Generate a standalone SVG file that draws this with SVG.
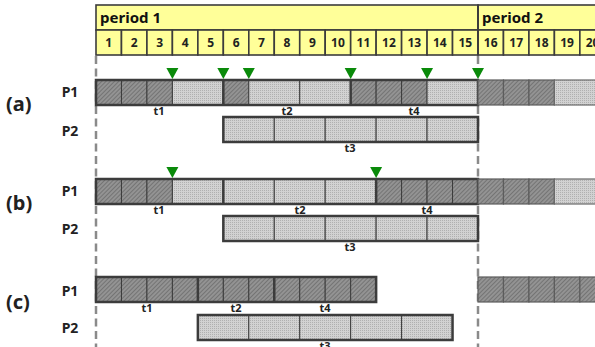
<svg xmlns="http://www.w3.org/2000/svg" width="595" height="347" viewBox="0 0 595 347">
  <defs>
    <pattern id="hatch" width="3" height="3" patternUnits="userSpaceOnUse" patternTransform="rotate(45)">
      <rect width="3" height="3" fill="#939393"/>
      <line x1="0" y1="0" x2="0" y2="3" stroke="#5a5a5a" stroke-width="1.1"/>
    </pattern>
    <pattern id="dots" width="2" height="2" patternUnits="userSpaceOnUse">
      <rect width="2" height="2" fill="#d2d2d2"/>
      <rect width="1" height="1" fill="#b0b0b0"/>
    </pattern>
    <path id="tri" d="M-6,0 L6,0 L0,11 Z" fill="#0a8a0a"/>
  </defs>
  <style>
    .hdr { fill: #ffff99; stroke: #3c3c3c; stroke-width: 1.6; }
    .num { font-family: "Noto Sans", "DejaVu Sans", sans-serif; font-weight: bold; font-size: 12px; fill: #222; text-anchor: middle; }
    .per { font-family: "Noto Sans", "DejaVu Sans", sans-serif; font-weight: bold; font-size: 15px; fill: #111; }
    .row { font-family: "Noto Sans", "DejaVu Sans", sans-serif; font-weight: bold; font-size: 20px; fill: #222; }
    .proc { font-family: "Noto Sans", "DejaVu Sans", sans-serif; font-weight: bold; font-size: 14px; fill: #222; text-anchor: middle; }
    .task { font-family: "Noto Sans", "DejaVu Sans", sans-serif; font-weight: bold; font-size: 11px; fill: #222; text-anchor: middle; }
    .h { fill: url(#hatch); stroke: #3c3c3c; stroke-width: 1; }
    .d { fill: url(#dots); stroke: #3c3c3c; stroke-width: 1; }
    .h2 { fill: url(#hatch); stroke: #5c5c5c; stroke-width: 1.2; }
    .d2 { fill: url(#dots); stroke: #6a6a6a; stroke-width: 1.2; }
    .frame { fill: none; stroke: #3c3c3c; stroke-width: 2.5; }
    .sep { stroke: #3c3c3c; stroke-width: 2.5; }
    .guide { stroke: #8a8a8a; stroke-width: 2.5; stroke-dasharray: 8 4.5; }
  </style>

  <!-- timeline header -->
  <g id="header">
    <rect class="hdr" x="96" y="5" width="382" height="25"/>
    <rect class="hdr" x="478" y="5" width="125" height="25"/>
    <text class="per" x="100" y="23">period 1</text>
    <text class="per" x="482" y="23">period 2</text>
    <rect class="hdr" x="96" y="30" width="25.47" height="25"/>
    <rect class="hdr" x="121.47" y="30" width="25.47" height="25"/>
    <rect class="hdr" x="146.93" y="30" width="25.47" height="25"/>
    <rect class="hdr" x="172.4" y="30" width="25.47" height="25"/>
    <rect class="hdr" x="197.87" y="30" width="25.47" height="25"/>
    <rect class="hdr" x="223.33" y="30" width="25.47" height="25"/>
    <rect class="hdr" x="248.8" y="30" width="25.47" height="25"/>
    <rect class="hdr" x="274.27" y="30" width="25.47" height="25"/>
    <rect class="hdr" x="299.73" y="30" width="25.47" height="25"/>
    <rect class="hdr" x="325.2" y="30" width="25.47" height="25"/>
    <rect class="hdr" x="350.67" y="30" width="25.47" height="25"/>
    <rect class="hdr" x="376.13" y="30" width="25.47" height="25"/>
    <rect class="hdr" x="401.6" y="30" width="25.47" height="25"/>
    <rect class="hdr" x="427.07" y="30" width="25.47" height="25"/>
    <rect class="hdr" x="452.53" y="30" width="25.47" height="25"/>
    <rect class="hdr" x="478" y="30" width="25.47" height="25"/>
    <rect class="hdr" x="503.47" y="30" width="25.47" height="25"/>
    <rect class="hdr" x="528.93" y="30" width="25.47" height="25"/>
    <rect class="hdr" x="554.4" y="30" width="25.47" height="25"/>
    <rect class="hdr" x="579.87" y="30" width="25.47" height="25"/>
    <line x1="478" y1="5" x2="478" y2="55" stroke="#3c3c3c" stroke-width="2"/>
    <text class="num" x="108.7" y="47">1</text>
    <text class="num" x="134.2" y="47">2</text>
    <text class="num" x="159.7" y="47">3</text>
    <text class="num" x="185.1" y="47">4</text>
    <text class="num" x="210.6" y="47">5</text>
    <text class="num" x="236.1" y="47">6</text>
    <text class="num" x="261.5" y="47">7</text>
    <text class="num" x="287" y="47">8</text>
    <text class="num" x="312.5" y="47">9</text>
    <text class="num" x="337.9" y="47">10</text>
    <text class="num" x="363.4" y="47">11</text>
    <text class="num" x="388.9" y="47">12</text>
    <text class="num" x="414.3" y="47">13</text>
    <text class="num" x="439.8" y="47">14</text>
    <text class="num" x="465.3" y="47">15</text>
    <text class="num" x="490.7" y="47">16</text>
    <text class="num" x="516.2" y="47">17</text>
    <text class="num" x="541.7" y="47">18</text>
    <text class="num" x="567.1" y="47">19</text>
    <text class="num" x="592.6" y="47">20</text>
  </g>

  <!-- period boundaries -->
  <g id="connectors">
    <line class="guide" x1="96" y1="56" x2="96" y2="347"/>
    <line class="guide" x1="478" y1="56" x2="478" y2="347"/>
  </g>

  <!-- row labels -->
  <g id="labels">
    <text class="row" x="6" y="111">(a)</text>
    <text class="row" x="6" y="210">(b)</text>
    <text class="row" x="6" y="309">(c)</text>
    <text class="proc" x="70" y="97">P1</text>
    <text class="proc" x="70" y="136">P2</text>
    <text class="proc" x="70" y="196">P1</text>
    <text class="proc" x="70" y="234">P2</text>
    <text class="proc" x="70" y="296">P1</text>
    <text class="proc" x="70" y="333">P2</text>
  </g>

  <!-- (a) P1 -->
  <g id="a-p1">
    <rect class="h" x="96" y="80" width="25.47" height="25"/>
    <rect class="h" x="121.47" y="80" width="25.47" height="25"/>
    <rect class="h" x="146.93" y="80" width="25.47" height="25"/>
    <rect class="d" x="172.4" y="80" width="50.93" height="25"/>
    <rect class="h" x="223.33" y="80" width="25.47" height="25"/>
    <rect class="d" x="248.8" y="80" width="50.93" height="25"/>
    <rect class="d" x="299.73" y="80" width="50.93" height="25"/>
    <rect class="h" x="350.67" y="80" width="25.47" height="25"/>
    <rect class="h" x="376.13" y="80" width="25.47" height="25"/>
    <rect class="h" x="401.6" y="80" width="25.47" height="25"/>
    <rect class="d" x="427.07" y="80" width="50.93" height="25"/>
    <rect class="frame" x="96" y="80" width="382" height="25"/>
    <line class="sep" x1="223.33" y1="80" x2="223.33" y2="105"/>
    <line class="sep" x1="350.67" y1="80" x2="350.67" y2="105"/>
    <rect class="h2" x="478" y="80" width="25.47" height="25"/>
    <rect class="h2" x="503.47" y="80" width="25.47" height="25"/>
    <rect class="h2" x="528.93" y="80" width="25.47" height="25"/>
    <rect class="d2" x="554.4" y="80" width="50.93" height="25"/>
    <text class="task" x="159" y="115">t1</text>
    <text class="task" x="287" y="115">t2</text>
    <text class="task" x="414" y="115">t4</text>
  </g>
  <!-- (a) P2 -->
  <g id="a-p2">
    <rect class="d" x="223.33" y="117" width="50.93" height="25"/>
    <rect class="d" x="274.27" y="117" width="50.93" height="25"/>
    <rect class="d" x="325.2" y="117" width="50.93" height="25"/>
    <rect class="d" x="376.13" y="117" width="50.93" height="25"/>
    <rect class="d" x="427.07" y="117" width="50.93" height="25"/>
    <rect class="frame" x="223.33" y="117" width="254.67" height="25"/>
    <text class="task" x="350" y="152">t3</text>
  </g>
  <!-- (a) release points -->
  <g id="a-marks">
    <use href="#tri" x="172.4" y="68"/>
    <use href="#tri" x="223.33" y="68"/>
    <use href="#tri" x="248.8" y="68"/>
    <use href="#tri" x="350.67" y="68"/>
    <use href="#tri" x="427.07" y="68"/>
    <use href="#tri" x="478" y="68"/>
  </g>

  <!-- (b) P1 -->
  <g id="b-p1">
    <rect class="h" x="96" y="179" width="25.47" height="25"/>
    <rect class="h" x="121.47" y="179" width="25.47" height="25"/>
    <rect class="h" x="146.93" y="179" width="25.47" height="25"/>
    <rect class="d" x="172.4" y="179" width="50.93" height="25"/>
    <rect class="d" x="223.33" y="179" width="50.93" height="25"/>
    <rect class="d" x="274.27" y="179" width="50.93" height="25"/>
    <rect class="d" x="325.2" y="179" width="50.93" height="25"/>
    <rect class="h" x="376.13" y="179" width="25.47" height="25"/>
    <rect class="h" x="401.6" y="179" width="25.47" height="25"/>
    <rect class="h" x="427.07" y="179" width="25.47" height="25"/>
    <rect class="h" x="452.53" y="179" width="25.47" height="25"/>
    <rect class="frame" x="96" y="179" width="382" height="25"/>
    <line class="sep" x1="223.33" y1="179" x2="223.33" y2="204"/>
    <line class="sep" x1="376.13" y1="179" x2="376.13" y2="204"/>
    <rect class="h2" x="478" y="179" width="25.47" height="25"/>
    <rect class="h2" x="503.47" y="179" width="25.47" height="25"/>
    <rect class="h2" x="528.93" y="179" width="25.47" height="25"/>
    <rect class="d2" x="554.4" y="179" width="50.93" height="25"/>
    <text class="task" x="159" y="214">t1</text>
    <text class="task" x="300" y="214">t2</text>
    <text class="task" x="427" y="214">t4</text>
  </g>
  <!-- (b) P2 -->
  <g id="b-p2">
    <rect class="d" x="223.33" y="216" width="50.93" height="25"/>
    <rect class="d" x="274.27" y="216" width="50.93" height="25"/>
    <rect class="d" x="325.2" y="216" width="50.93" height="25"/>
    <rect class="d" x="376.13" y="216" width="50.93" height="25"/>
    <rect class="d" x="427.07" y="216" width="50.93" height="25"/>
    <rect class="frame" x="223.33" y="216" width="254.67" height="25"/>
    <text class="task" x="350" y="251">t3</text>
  </g>
  <!-- (b) release points -->
  <g id="b-marks">
    <use href="#tri" x="172.4" y="167"/>
    <use href="#tri" x="376.13" y="167"/>
  </g>

  <!-- (c) P1 -->
  <g id="c-p1">
    <rect class="h" x="96" y="277" width="25.47" height="25"/>
    <rect class="h" x="121.47" y="277" width="25.47" height="25"/>
    <rect class="h" x="146.93" y="277" width="25.47" height="25"/>
    <rect class="h" x="172.4" y="277" width="25.47" height="25"/>
    <rect class="h" x="197.87" y="277" width="25.47" height="25"/>
    <rect class="h" x="223.33" y="277" width="25.47" height="25"/>
    <rect class="h" x="248.8" y="277" width="25.47" height="25"/>
    <rect class="h" x="274.27" y="277" width="25.47" height="25"/>
    <rect class="h" x="299.73" y="277" width="25.47" height="25"/>
    <rect class="h" x="325.2" y="277" width="25.47" height="25"/>
    <rect class="h" x="350.67" y="277" width="25.47" height="25"/>
    <rect class="frame" x="96" y="277" width="280.13" height="25"/>
    <line class="sep" x1="197.87" y1="277" x2="197.87" y2="302"/>
    <line class="sep" x1="274.27" y1="277" x2="274.27" y2="302"/>
    <rect class="h2" x="478" y="277" width="25.47" height="25"/>
    <rect class="h2" x="503.47" y="277" width="25.47" height="25"/>
    <rect class="h2" x="528.93" y="277" width="25.47" height="25"/>
    <rect class="h2" x="554.4" y="277" width="25.47" height="25"/>
    <rect class="h2" x="579.87" y="277" width="25.47" height="25"/>
    <text class="task" x="147" y="312">t1</text>
    <text class="task" x="236" y="312">t2</text>
    <text class="task" x="325" y="312">t4</text>
  </g>
  <!-- (c) P2 -->
  <g id="c-p2">
    <rect class="d" x="197.87" y="315" width="50.93" height="25"/>
    <rect class="d" x="248.8" y="315" width="50.93" height="25"/>
    <rect class="d" x="299.73" y="315" width="50.93" height="25"/>
    <rect class="d" x="350.67" y="315" width="50.93" height="25"/>
    <rect class="d" x="401.6" y="315" width="50.93" height="25"/>
    <rect class="frame" x="197.87" y="315" width="254.67" height="25"/>
    <text class="task" x="325" y="350">t3</text>
  </g>
</svg>
